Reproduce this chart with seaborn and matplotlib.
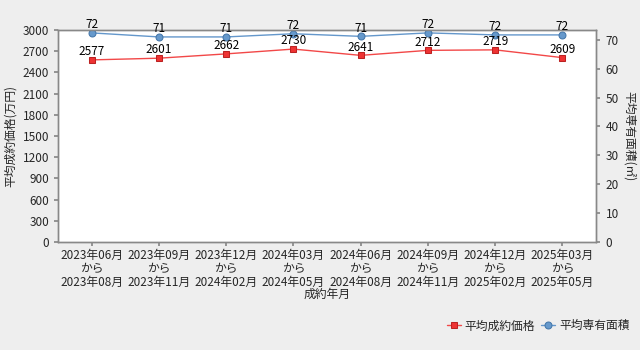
import matplotlib
matplotlib.use("Agg")
import matplotlib.pyplot as plt
import seaborn as sns
import pandas as pd

periods = ["2023年06月\nから\n2023年08月", "2023年09月\nから\n2023年11月", "2023年12月\nから\n2024年02月",
           "2024年03月\nから\n2024年05月", "2024年06月\nから\n2024年08月", "2024年09月\nから\n2024年11月",
           "2024年12月\nから\n2025年02月", "2025年03月\nから\n2025年05月"]
price = [2577, 2601, 2662, 2730, 2641, 2712, 2719, 2609]
area = [72.4, 71.0, 71.0, 72.1, 71.2, 72.4, 71.7, 71.7]
area_labels = [72, 71, 71, 72, 71, 72, 72, 72]

sns.set_theme(style="white")
plt.rcParams['font.family'] = ['Noto Sans CJK JP', 'DejaVu Sans']

df = pd.DataFrame({"x": range(len(periods)), "price": price, "area": area})

fig = plt.figure(figsize=(6.4, 3.5), dpi=100, facecolor="#eeeeee")
ax = fig.add_axes([58/640, 1-242/350, 538/640, 212/350])
ax.set_facecolor("white")
ax2 = ax.twinx()

red = "#f24848"
blue = "#6497cb"
sns.lineplot(data=df, x="x", y="price", ax=ax, color=red, marker="s", markersize=5,
             markerfacecolor="#ee3333", markeredgecolor="#bb2222", linewidth=1, label="平均成約価格", legend=False)
sns.lineplot(data=df, x="x", y="area", ax=ax2, color=blue, marker="o", markersize=5,
             markerfacecolor="#6699cc", markeredgecolor="#4477aa", linewidth=1, label="平均専有面積", legend=False)

for i, v in enumerate(price):
    ax2.text(i, v + 25, str(v), ha="center", va="bottom", fontsize=8.5, color="black",
             transform=ax.transData, zorder=5)
for i, (v, lab) in enumerate(zip(area, area_labels)):
    ax2.text(i, v + 0.5, str(lab), ha="center", va="bottom", fontsize=8.5, color="black",
             clip_on=False, zorder=5)

ax.set_xlim(-0.5, len(periods) - 0.5)
ax.set_ylim(0, 3000)
ax.set_yticks(range(0, 3001, 300))
ax2.set_ylim(0, 73.4)
ax2.set_yticks(range(0, 71, 10))
ax.set_xticks(range(len(periods)))
ax.set_xticklabels(periods, fontsize=8.5, linespacing=1.05)
ax.tick_params(axis="y", labelsize=8.5, length=3, color="#888888", left=True)
ax.tick_params(axis="x", length=3, color="#888888", bottom=True, pad=2)
ax2.tick_params(axis="y", labelsize=8.5, length=3, color="#888888", right=True, pad=4)
ax.set_xlabel("成約年月", fontsize=8.5, labelpad=-1)
ax.set_ylabel("平均成約価格(万円)", fontsize=8.5, labelpad=4)
ax2.set_ylabel("平均専有面積(㎡)", fontsize=8.5, rotation=-90, labelpad=12)
for a in (ax, ax2):
    for s in a.spines.values():
        s.set_color("#888888")
        s.set_linewidth(1)

h1, l1 = ax.get_legend_handles_labels()
h2, l2 = ax2.get_legend_handles_labels()
fig.legend(h1 + h2, l1 + l2, loc="lower right", bbox_to_anchor=(1.0, 0.02), ncol=2, frameon=False,
           fontsize=8.5, handlelength=1.2, handletextpad=0.3, columnspacing=0.5)

fig.savefig("out.png", dpi=100, facecolor=fig.get_facecolor())
